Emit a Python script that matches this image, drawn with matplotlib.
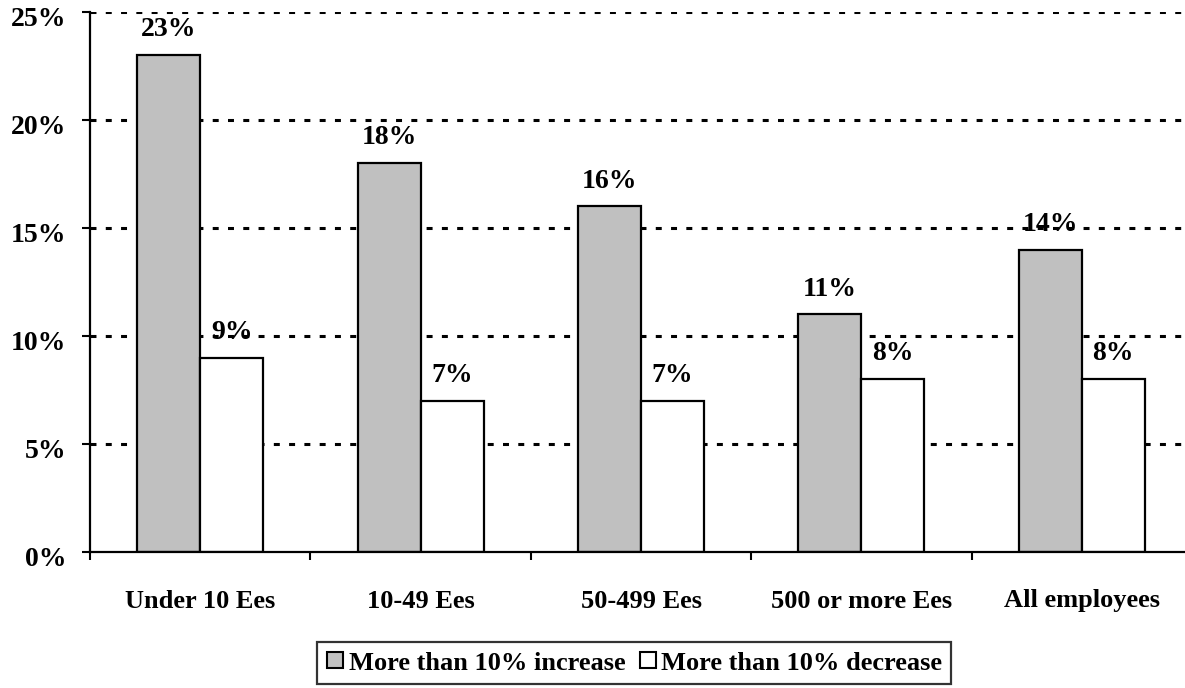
import matplotlib
matplotlib.use("Agg")
import matplotlib.pyplot as plt
from matplotlib.lines import Line2D
from matplotlib.transforms import ScaledTranslation
import numpy as np

categories = ["Under 10 Ees", "10-49 Ees", "50-499 Ees", "500 or more Ees", "All employees"]
increase = [23, 18, 16, 11, 14]
decrease = [9, 7, 7, 8, 8]
series_names = ["More than 10% increase", "More than 10% decrease"]
yticks = [0, 5, 10, 15, 20, 25]
ytick_labels = ["0%", "5%", "10%", "15%", "20%", "25%"]

plt.rcParams['font.family'] = ['Liberation Serif', 'DejaVu Serif']
plt.rcParams['font.weight'] = 'bold'
plt.rcParams['lines.scale_dashes'] = False

W, H = 1185, 688
fig = plt.figure(figsize=(W / 100, H / 100), dpi=100)
ax = fig.add_axes([90 / W, 1 - 552 / H, (1192 - 90) / W, (552 - 12) / H])

x = np.arange(len(categories)) + 0.5
bw = 0.2857
fs = 19
fs_big = 20

b1 = ax.bar(x - bw / 2, increase, width=bw, color="#c0c0c0", edgecolor="black", linewidth=1.6, zorder=3)
b2 = ax.bar(x + bw / 2, decrease, width=bw, color="white", edgecolor="black", linewidth=1.6, zorder=3)

for bars, vals in ((b1, increase), (b2, decrease)):
    for r, v in zip(bars, vals):
        ax.annotate(f"{v}%", (r.get_x() + r.get_width() / 2, v), xytext=(0, 13.5),
                    textcoords="offset points", ha="center", va="baseline",
                    fontsize=fs_big, fontweight="bold", zorder=5)

ax.set_xlim(0, len(categories))
ax.set_ylim(0, 25)

for yv in yticks[1:]:
    ax.axhline(yv, color="black", linewidth=2.2, linestyle=(0, (4.3, 6.7)), zorder=1)

ax.set_yticks(yticks)
ax.set_yticklabels(ytick_labels, fontsize=fs_big, fontweight="bold")
ax.tick_params(axis="y", length=6, width=1.5, pad=11, direction="out")
offset = ScaledTranslation(0, -5 / 100, fig.dpi_scale_trans)
for lab in ax.get_yticklabels():
    lab.set_transform(lab.get_transform() + offset)

ax.set_xticks(np.arange(len(categories) + 1))
ax.set_xticklabels([])
ax.tick_params(axis="x", which="major", length=6, width=1.5, direction="out")
ax.set_xticks(x, minor=True)
ax.set_xticklabels(categories, minor=True, fontsize=fs, fontweight="bold")
ax.tick_params(axis="x", which="minor", length=0, pad=27)

for s in ("top", "right"):
    ax.spines[s].set_visible(False)
for s in ("left", "bottom"):
    ax.spines[s].set_linewidth(1.6)
    ax.spines[s].set_zorder(4)

handles = [
    Line2D([], [], marker="s", linestyle="none", markersize=12, markerfacecolor="#c0c0c0",
           markeredgecolor="black", markeredgewidth=1.5),
    Line2D([], [], marker="s", linestyle="none", markersize=12, markerfacecolor="white",
           markeredgecolor="black", markeredgewidth=1.5),
]
leg = fig.legend(handles, series_names, loc="upper left", bbox_to_anchor=(317 / W, 1 - 642 / H),
                 ncol=2, frameon=True, fancybox=False, shadow=False,
                 handlelength=0.7, handletextpad=0.15, columnspacing=0.5, borderpad=0.35,
                 borderaxespad=0, prop={"weight": "bold", "size": fs})
leg.get_frame().set_edgecolor("black")
leg.get_frame().set_linewidth(1.6)

fig.savefig("out.png", dpi=100)
